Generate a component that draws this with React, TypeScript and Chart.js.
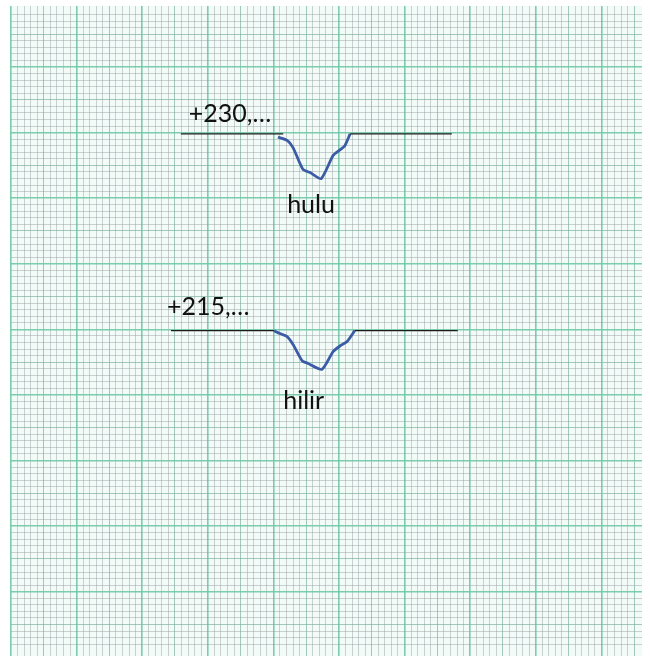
import React, { useEffect, useRef } from "react";
import { Chart, registerables } from "chart.js";

Chart.register(...registerables);

// grid units: one minor square of the graph paper
const X_MIN = 0;
const X_MAX = 96.2;
const Y_MIN = -9.8;
const Y_MAX = 89.3;

// upstream (hulu) section
const huluLevel = 69.8;
const huluLeftBank = [25.9, 41.5];
const huluRightBank = [51.7, 67.2];
const huluX = [40.7, 42.1, 43.0, 44.5, 45.6, 47.3, 49.1, 50.2, 50.9, 51.7];
const huluY = [69.3, 68.8, 67.7, 64.4, 63.9, 63.0, 66.5, 67.4, 68.0, 69.8];

// downstream (hilir) section
const hilirLevel = 39.8;
const hilirLeftBank = [24.4, 40.1];
const hilirRightBank = [52.4, 68.1];
const hilirX = [40.1, 40.7, 42.1, 43.0, 44.4, 45.3, 47.4, 49.1, 50.2, 51.2, 52.4];
const hilirY = [39.8, 39.5, 38.9, 37.7, 35.2, 34.8, 33.9, 36.6, 37.5, 38.1, 39.8];

// labels: text, x, y (grid units)
const labelTexts = ["+230,…", "hulu", "+215,…", "hilir"];
const labelX = [27.1, 42.1, 23.8, 41.5];
const labelY = [71.6, 57.8, 42.2, 27.9];

const zip = (xs: number[], ys: number[]) => xs.map((x, i) => ({ x, y: ys[i] }));
const flat = (xs: number[], y: number) => xs.map((x) => ({ x, y }));

const MAJOR = "rgba(110,200,165,0.9)";
const MEDIUM = "rgba(125,180,160,0.7)";
const MINOR = "rgba(140,150,150,0.42)";

const gridColor = (v: number) => {
  const r = Math.round(v);
  if (Math.abs(v - r) > 1e-6) return "rgba(0,0,0,0)";
  if (r % 10 === 0) return MAJOR;
  if (r % 5 === 0) return MEDIUM;
  return MINOR;
};
const gridWidth = (v: number) => {
  const r = Math.round(v);
  if (Math.abs(v - r) > 1e-6) return 0;
  if (r % 10 === 0) return 1.6;
  return 1;
};

const paperPlugin = {
  id: "paper",
  beforeDraw(chart: any) {
    const { ctx, chartArea } = chart;
    ctx.save();
    ctx.fillStyle = "#ffffff";
    ctx.fillRect(0, 0, chart.width, chart.height);
    ctx.fillStyle = "#f3fbf8";
    ctx.fillRect(chartArea.left, chartArea.top, chartArea.right - chartArea.left, chartArea.bottom - chartArea.top);
    ctx.restore();
  },
};

const labelPlugin = {
  id: "labels",
  afterDatasetsDraw(chart: any) {
    const { ctx, scales } = chart;
    ctx.save();
    ctx.fillStyle = "#111111";
    ctx.font = "25px Lato";
    ctx.textAlign = "left";
    ctx.textBaseline = "alphabetic";
    labelTexts.forEach((t, i) => {
      ctx.fillText(t, scales.x.getPixelForValue(labelX[i]), scales.y.getPixelForValue(labelY[i]));
    });
    ctx.restore();
  },
};

export default function App() {
  const ref = useRef<HTMLCanvasElement | null>(null);
  useEffect(() => {
    document.body.style.margin = "0";
    const blue = "#3b5ba6";
    const black = "#1c1c1c";
    const bank = (data: any[]) => ({
      data,
      borderColor: black,
      borderWidth: 1.4,
      pointRadius: 0,
      tension: 0,
    });
    const curve = (data: any[]) => ({
      data,
      borderColor: blue,
      borderWidth: 2.8,
      pointRadius: 0,
      tension: 0.2,
    });
    const chart = new Chart(ref.current as HTMLCanvasElement, {
      type: "line",
      data: {
        datasets: [
          bank(flat(huluLeftBank, huluLevel)),
          bank(flat(huluRightBank, huluLevel)),
          curve(zip(huluX, huluY)),
          bank(flat(hilirLeftBank, hilirLevel)),
          bank(flat(hilirRightBank, hilirLevel)),
          curve(zip(hilirX, hilirY)),
        ] as any,
      },
      options: {
        animation: false,
        responsive: false,
        layout: { padding: { left: 11, top: 6, right: 8, bottom: 1 } },
        plugins: { legend: { display: false }, tooltip: { enabled: false } },
        scales: {
          x: {
            type: "linear",
            min: X_MIN,
            max: X_MAX,
            ticks: { display: false, stepSize: 1, autoSkip: false, maxTicksLimit: 1000 },
            grid: {
              drawTicks: false,
              color: (c: any) => gridColor(c.tick.value),
              lineWidth: (c: any) => gridWidth(c.tick.value),
            },
            border: { display: false },
          },
          y: {
            type: "linear",
            min: Y_MIN,
            max: Y_MAX,
            ticks: { display: false, stepSize: 1, autoSkip: false, maxTicksLimit: 1000 },
            grid: {
              drawTicks: false,
              color: (c: any) => gridColor(c.tick.value),
              lineWidth: (c: any) => gridWidth(c.tick.value),
            },
            border: { display: false },
          },
        },
      },
      plugins: [paperPlugin, labelPlugin],
    });
    return () => chart.destroy();
  }, []);
  return (
    <div style={{ position: "absolute", left: 0, top: 0, width: 650, height: 657 }}>
      <canvas ref={ref} width={650} height={657} style={{ display: "block" }} />
    </div>
  );
}
